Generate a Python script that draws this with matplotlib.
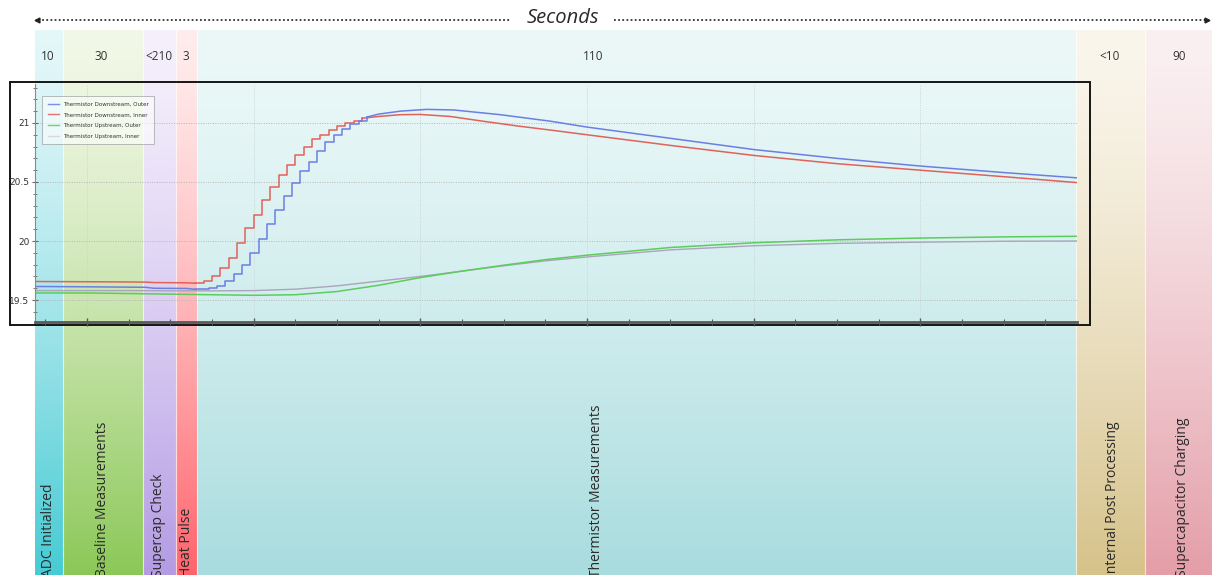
import numpy as np
import matplotlib
matplotlib.use("Agg")
import matplotlib.pyplot as plt
from matplotlib.patches import Rectangle
from matplotlib.ticker import MultipleLocator

# phases of one measurement cycle
phase_names = ["ADC Initialized", "Baseline Measurements", "Supercap Check", "Heat Pulse",
               "Thermistor Measurements", "Internal Post Processing", "Supercapacitor Charging"]
phase_secs = ["10", "30", "<210", "3", "110", "<10", "90"]

# downstream thermistors: before the pulse, the stepped rise, the slow decay
ds_t_base = [13.8, 20, 27, 28, 32, 33]
ds_outer_base = [19.615, 19.612, 19.608, 19.60, 19.598, 19.59]
ds_inner_base = [19.657, 19.655, 19.652, 19.648, 19.646, 19.642]

ds_inner_rise_t = list(range(33, 54))
ds_inner_rise = [19.642, 19.66, 19.70, 19.77, 19.86, 19.98, 20.11, 20.22, 20.35, 20.46, 20.56,
                 20.64, 20.73, 20.80, 20.86, 20.90, 20.94, 20.97, 21.00, 21.02, 21.04]
ds_outer_rise_t = [33, 34.6, 35.6, 36.6, 37.6, 38.6, 39.6, 40.6, 41.6, 42.6, 43.6, 44.6, 45.6,
                   46.6, 47.6, 48.6, 49.6, 50.6, 51.6, 52.6, 53.6]
ds_outer_rise = [19.59, 19.60, 19.62, 19.66, 19.72, 19.80, 19.90, 20.02, 20.14, 20.26, 20.38,
                 20.49, 20.59, 20.67, 20.76, 20.84, 20.90, 20.95, 20.99, 21.02, 21.05]

ds_outer_tail_t = [53.6, 55, 57.6, 60.8, 64, 69.6, 75.6, 80, 90, 100, 110, 120, 130, 138.8]
ds_outer_tail = [21.05, 21.075, 21.10, 21.115, 21.11, 21.07, 21.015, 20.965, 20.87, 20.775,
                 20.70, 20.635, 20.58, 20.535]
ds_inner_tail_t = [53, 55, 57.6, 60, 63.6, 67.5, 71.6, 75.6, 80, 90, 100, 110, 120, 130, 138.8]
ds_inner_tail = [21.04, 21.055, 21.07, 21.072, 21.055, 21.015, 20.975, 20.94, 20.90, 20.81,
                 20.725, 20.655, 20.60, 20.545, 20.495]

# upstream thermistors
us_t = [13.8, 20, 25, 30, 35, 40, 45, 50, 55, 60, 65, 70, 75, 80, 90, 100, 110, 120, 130, 138.8]
us_outer = [19.56, 19.56, 19.555, 19.55, 19.545, 19.54, 19.545, 19.572, 19.625, 19.69, 19.745,
            19.795, 19.842, 19.88, 19.945, 19.985, 20.01, 20.025, 20.035, 20.04]
us_inner = [19.58, 19.58, 19.58, 19.578, 19.578, 19.58, 19.592, 19.62, 19.66, 19.70, 19.745,
            19.79, 19.832, 19.865, 19.925, 19.96, 19.98, 19.99, 19.998, 20.0]

# layout (pixels of the 1212x575 canvas)
W, H = 1212, 575
band_edges = [35, 63, 143, 176, 197, 1076, 1145, 1212]
band_top = [(228, 247, 249), (242, 248, 232), (245, 240, 252), (255, 236, 236),
            (236, 248, 248), (250, 246, 236), (250, 240, 242)]
band_bottom = [(70, 203, 212), (140, 200, 88), (180, 155, 228), (255, 100, 108),
               (168, 220, 222), (214, 194, 138), (228, 158, 168)]
sec_x = [48, 101, 159, 186, 593, 1110, 1179]
name_x = [48, 103, 159, 187, 597, 1112, 1182]

plt.rcParams['font.family'] = ['Open Sans', 'DejaVu Sans']

fig = plt.figure(figsize=(W / 100, H / 100), dpi=100)
bg = fig.add_axes([0, 0, 1, 1])
bg.set_xlim(0, W)
bg.set_ylim(H, 0)
bg.axis('off')

ramp = np.linspace(0, 1, 300) ** 1.35
for i in range(len(phase_names)):
    top = np.array(band_top[i]) / 255
    bot = np.array(band_bottom[i]) / 255
    grad = top[None, :] + ramp[:, None] * (bot - top)[None, :]
    bg.imshow(grad[:, None, :], extent=(band_edges[i], band_edges[i + 1], H, 30),
              aspect='auto', interpolation='bilinear', zorder=0)
    bg.text(sec_x[i], 57, phase_secs[i], ha='center', va='center', fontsize=8.5,
            color='#333333')
    bg.text(name_x[i], H + 2, phase_names[i], rotation=90, ha='center', va='bottom',
            fontsize=10, color='#2a2a2a')
for e in band_edges[1:-1]:
    bg.plot([e, e], [30, H], color='white', lw=0.8, alpha=0.7, zorder=1)
bg.set_xlim(0, W)
bg.set_ylim(H, 0)

# seconds arrow
bg.plot([38, 510], [20, 20], ls=(0, (1, 1.3)), lw=1.3, color='#333333')
bg.plot([614, 1206], [20, 20], ls=(0, (1, 1.3)), lw=1.3, color='#333333')
bg.plot([37], [20], marker='<', ms=3.5, color='#222222')
bg.plot([1207], [20], marker='>', ms=3.5, color='#222222')
bg.text(563, 18, "Seconds", ha='center', va='center', fontsize=14.5, style='italic',
        color='#2a2a2a')

# frame around the screenshot of the plot
bg.add_patch(Rectangle((10, 82), 1080, 243, fill=False, ec='#151515', lw=1.4, zorder=3))

# the chart
x0, x1, y_top, y_bot = 35, 1077, 84, 322
ax = fig.add_axes([x0 / W, (H - y_bot) / H, (x1 - x0) / W, (y_bot - y_top) / H])
ax.patch.set_alpha(0)
ax.set_xlim(13.76, 138.8)
ax.set_ylim(19.314, 21.33)

ax.plot(ds_t_base, ds_inner_base, color='#e0625a', lw=1.1)
ax.step(ds_inner_rise_t, ds_inner_rise, where='post', color='#e0625a', lw=1.1)
ax.plot(ds_inner_tail_t, ds_inner_tail, color='#e0625a', lw=1.1)
ax.plot(ds_t_base, ds_outer_base, color='#6b7fe3', lw=1.1)
ax.step(ds_outer_rise_t, ds_outer_rise, where='post', color='#6b7fe3', lw=1.1)
ax.plot(ds_outer_tail_t, ds_outer_tail, color='#6b7fe3', lw=1.1)
ax.plot(us_t, us_inner, color='#aaa5ba', lw=1.0)
ax.plot(us_t, us_outer, color='#5ccc5c', lw=1.1)

h_out, = ax.plot([], [], color='#7b8fe8', lw=1.0)
h_in, = ax.plot([], [], color='#e87070', lw=1.0)
h_uo, = ax.plot([], [], color='#70d070', lw=1.0)
h_ui, = ax.plot([], [], color='#d8d8d8', lw=1.0)
leg = ax.legend([h_out, h_in, h_uo, h_ui],
                ["Thermistor Downstream, Outer", "Thermistor Downstream, Inner",
                 "Thermistor Upstream, Outer", "Thermistor Upstream, Inner"],
                loc='upper left', bbox_to_anchor=(0.004, 0.96), fontsize=4.0,
                fancybox=False, framealpha=0.55, edgecolor='#888888',
                handlelength=2.0, borderpad=1.0, labelspacing=1.0)
leg.get_frame().set_linewidth(0.7)
for t in leg.get_texts():
    t.set_color('#333333')
    t.set_family('DejaVu Sans')

ax.xaxis.set_major_locator(MultipleLocator(20))
ax.xaxis.set_minor_locator(MultipleLocator(5))
ax.yaxis.set_major_locator(MultipleLocator(0.5))
ax.yaxis.set_minor_locator(MultipleLocator(0.1))
ax.grid(True, which='major', axis='y', ls=(0, (1, 1.5)), lw=0.7, color='#b5b5b5')
ax.grid(True, which='major', axis='x', ls=(0, (1, 1.5)), lw=0.7, color='#c8d4d4')
ax.set_yticks([19.5, 20, 20.5, 21])
ax.set_yticklabels(["19.5", "20", "20.5", "21"], family='DejaVu Sans')

for s in ['top', 'right']:
    ax.spines[s].set_visible(False)
ax.spines['left'].set_color('#8a8a8a')
ax.spines['left'].set_linewidth(0.8)
ax.spines['bottom'].set_color('#5a5a5a')
ax.spines['bottom'].set_linewidth(2.0)
ax.tick_params(axis='y', which='major', direction='inout', length=5, width=0.8,
               color='#666666', labelsize=6.5, labelcolor='#333333', pad=1.5)
ax.tick_params(axis='y', which='minor', direction='inout', length=2.5, width=0.7,
               color='#777777')
ax.tick_params(axis='x', which='major', direction='inout', length=6, width=1.0,
               color='#555555', labelbottom=False)
ax.tick_params(axis='x', which='minor', direction='inout', length=4, width=0.8,
               color='#555555')

fig.savefig("out.png", dpi=100)
